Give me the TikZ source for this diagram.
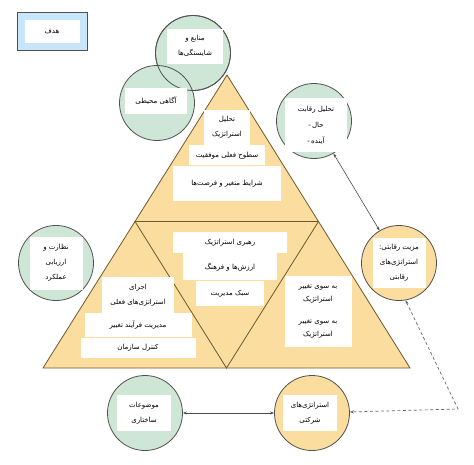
\documentclass[tikz,border=0pt]{standalone}
\usepackage{fontspec}
\newfontfamily\fa[Script=Arabic]{DejaVu Sans}
\TeXXeTstate=1
\usetikzlibrary{arrows.meta, positioning, calc}

\newcommand{\rtxt}[1]{\beginR#1\endR}

\definecolor{mint}{RGB}{206,230,214}
\definecolor{sand}{RGB}{252,221,160}
\definecolor{sky}{RGB}{200,230,250}
\definecolor{ringline}{RGB}{80,80,80}
\definecolor{pyrline}{RGB}{110,88,48}

\begin{document}
\begin{tikzpicture}[
    x=1pt, y=-1pt,
    >={Stealth[length=4pt, width=3pt]},
    % --- shapes ---
    ring/.style={
        circle, draw=ringline, line width=0.8pt,
        minimum size=75pt, inner sep=0pt},
    greenring/.style={ring, fill=mint},
    sandring/.style={ring, fill=sand},
    card/.style={
        fill=white, inner sep=1pt, align=center,
        font=\fa\fontsize{7}{15}\selectfont},
    stepbox/.style={card, minimum height=20pt},
    % --- connectors ---
    arr/.style={<->, draw=black!70, line width=0.6pt},
    arrdash/.style={<->, draw=black!60, line width=0.7pt, dash pattern=on 3pt off 2.5pt},
]
\useasboundingbox (0,0) rectangle (474,464);

% ===== PYRAMID =====
\coordinate (apex) at (227,75);
\coordinate (bl) at (43,368);
\coordinate (br) at (410,368);
\coordinate (ml) at ($(apex)!0.5!(bl)$);
\coordinate (mr) at ($(apex)!0.5!(br)$);
\coordinate (mb) at ($(bl)!0.5!(br)$);
\draw[pyrline, fill=sand, line width=0.8pt] (apex) -- (bl) -- (br) -- cycle;
\draw[pyrline, line width=0.8pt] (ml) -- (mr) -- (mb) -- cycle;

% top part
\node[stepbox, minimum width=46pt, minimum height=35pt] (t1) at (227,127.5)
    {\rtxt{تحلیل}\\\rtxt{استراتژیک}};
\node[stepbox, minimum width=76pt, below=0pt of t1] (t2) {\rtxt{سطوح فعلی موفقیت}};
\node[stepbox, minimum width=108pt, minimum height=35pt, below=0pt of t2] (t3)
    {\rtxt{شرایط متغیر و فرصت‌ها}};

% middle part
\node[stepbox, minimum width=114pt, minimum height=21pt] (m1) at (230,242.5)
    {\rtxt{رهبری استراتژیک}};
\node[stepbox, minimum width=94pt, minimum height=27pt, below=0pt of m1] (m2)
    {\rtxt{ارزش‌ها و فرهنگ}};
\node[stepbox, minimum width=68pt, minimum height=25pt, below=0pt of m2] (m3)
    {\rtxt{سبک مدیریت}};

% left part
\node[stepbox, minimum width=72pt, minimum height=36pt] (l1) at (138,295)
    {\rtxt{اجرای}\\\rtxt{استراتژی‌های فعلی}};
\node[stepbox, minimum width=107pt, minimum height=24pt, below=0pt of l1] (l2)
    {\rtxt{مدیریت فرآیند تغییر}};
\node[stepbox, minimum width=115pt, below=0pt of l2] (l3) {\rtxt{کنترل سازمان}};

% right part
\node[card, minimum width=67pt, minimum height=71pt,
      font=\fa\fontsize{7}{13}\selectfont] (r1) at (318,311)
    {\rtxt{به سوی تغییر}\\\rtxt{استراتژیک}\\[9pt]\rtxt{به سوی تغییر}\\\rtxt{استراتژیک}};

% ===== GOAL BOX =====
\node[draw=ringline, fill=sky, line width=0.6pt,
      minimum width=70pt, minimum height=38pt] (goal) at (52,31) {};
\node[card, minimum width=55pt, minimum height=23pt] (goal-t) at (goal) {\rtxt{هدف}};

% ===== CIRCLES =====
\node[greenring] (res) at (193,53) {};
\node[greenring] (env) at (157,103) {};
\draw[ringline, line width=0.8pt] (res.center) circle[radius=37.5pt];
\node[greenring] (comp) at (314,121) {};
\node[sandring] (adv) at (399,263) {};
\node[greenring] (mon) at (56,263) {};
\node[greenring] (struct) at (145,413) {};
\node[sandring] (corp) at (312,413) {};

% cards on the circles
\node[card, minimum width=56pt, minimum height=35pt] (res-t) at (195,46)
    {\rtxt{منابع و}\\\rtxt{شایستگی‌ها}};
\node[card, minimum width=62pt, minimum height=26pt] (env-t) at (156,101)
    {\rtxt{آگاهی محیطی}};
\node[card, minimum width=62pt, minimum height=54pt, font=\fa\fontsize{7}{16}\selectfont]
    (comp-t) at (316,125)
    {\rtxt{تحلیل رقابت}\\\hbox{-\,}\hbox{\rtxt{حال}}\\\hbox{-\,}\hbox{\rtxt{آینده}}};
\node[card, minimum width=53pt, minimum height=50pt] (adv-t) at (399,263)
    {\rtxt{مزیت رقابتی:}\\\rtxt{استراتژی‌های}\\\rtxt{رقابتی}};
\node[card, minimum width=53pt, minimum height=53pt] (mon-t) at (56,263)
    {\rtxt{نظارت و}\\\rtxt{ارزیابی}\\\rtxt{عملکرد}};
\node[card, minimum width=54pt, minimum height=36pt] (struct-t) at (144,413)
    {\rtxt{موضوعات}\\\rtxt{ساختاری}};
\node[card, minimum width=54pt, minimum height=36pt] (corp-t) at (310,413)
    {\rtxt{استراتژی‌های}\\\rtxt{شرکتی}};

% ===== CONNECTORS =====
\draw[arr] (comp) -- (adv);
\draw[arr] (struct) -- (corp);
\coordinate (bend) at (458,409);
\draw[arrdash] (adv.280) -- (bend) -- (corp);

\end{tikzpicture}
\end{document}
